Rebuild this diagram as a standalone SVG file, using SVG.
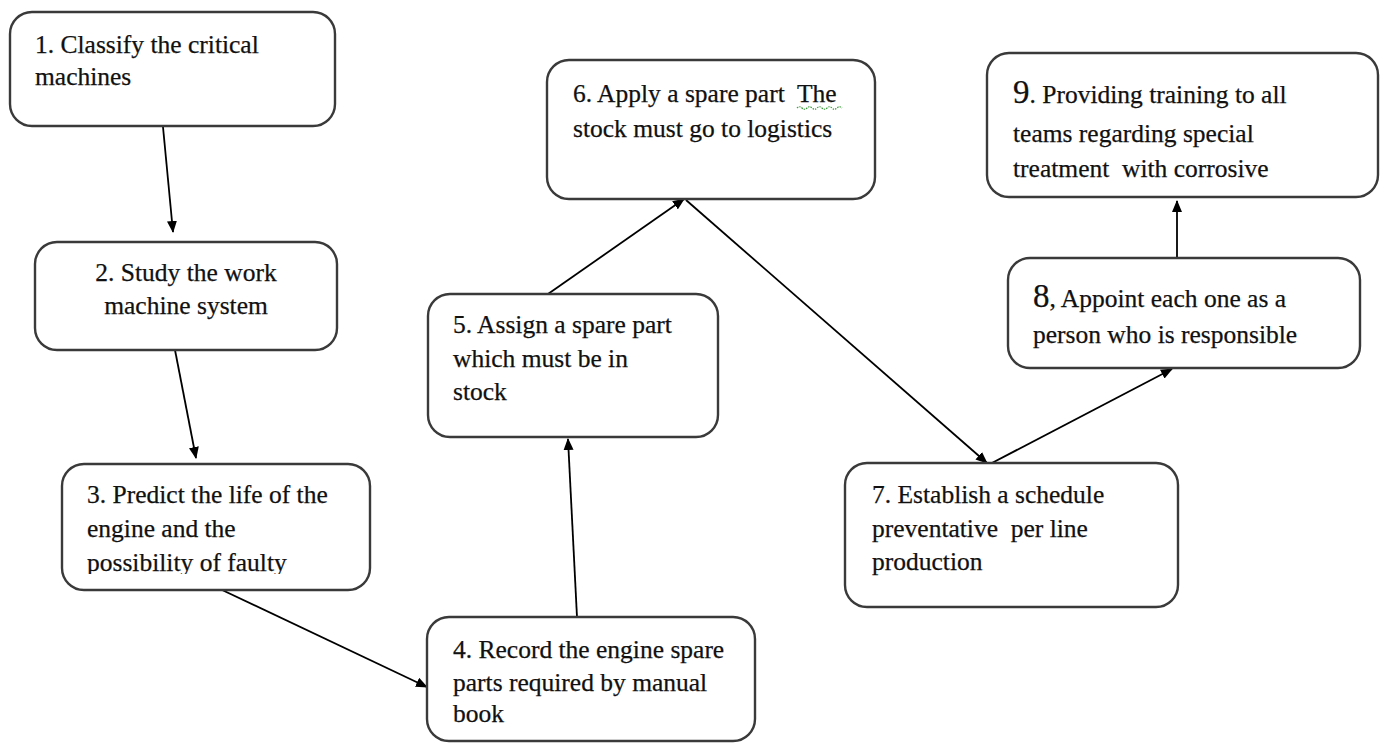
<svg xmlns="http://www.w3.org/2000/svg" width="1389" height="745" viewBox="0 0 1389 745">
<style>
.box{fill:#fff;stroke:#3a3a3a;stroke-width:2.4}
.t{font-family:"Liberation Serif","Times New Roman",serif;font-size:25.5px;fill:#111;stroke:#111;stroke-width:0.25}
.big{font-size:33px}
.c{stroke:#000;stroke-width:1.8;fill:none;marker-end:url(#ah)}
</style>
<defs>
<marker id="ah" viewBox="0 0 12 10" refX="11" refY="5" markerWidth="12" markerHeight="10" markerUnits="userSpaceOnUse" orient="auto">
<path d="M0,0 L12,5 L0,10 Z" fill="#000"/>
</marker>
<clipPath id="clip3"><rect x="62" y="464" width="308" height="110"/></clipPath>
</defs>
<rect width="1389" height="745" fill="#fff"/>
<g id="connectors">
<line class="c" x1="163" y1="127" x2="173" y2="232"/>
<line class="c" x1="175" y1="350" x2="196" y2="458"/>
<line class="c" x1="220" y1="589" x2="427" y2="687"/>
<line class="c" x1="577" y1="617" x2="568" y2="439"/>
<line class="c" x1="548" y1="294" x2="684" y2="199"/>
<line class="c" x1="686" y1="200" x2="987" y2="463"/>
<line class="c" x1="990" y1="464" x2="1172" y2="369"/>
<line class="c" x1="1177" y1="258" x2="1177" y2="201"/>
</g>
<g id="n1">
<rect class="box" x="10" y="12" width="325" height="114" rx="22"/>
<text class="t" x="35" y="53">1. Classify the critical</text>
<text class="t" x="35" y="85">machines</text>
</g>
<g id="n2">
<rect class="box" x="35" y="242" width="302" height="108" rx="22"/>
<text class="t" x="186" y="281" text-anchor="middle">2. Study the work</text>
<text class="t" x="186" y="314" text-anchor="middle">machine system</text>
</g>
<g id="n3">
<rect class="box" x="62" y="464" width="308" height="126" rx="22"/>
<g clip-path="url(#clip3)">
<text class="t" x="87" y="503">3. Predict the life of the</text>
<text class="t" x="87" y="537">engine and the</text>
<text class="t" x="87" y="571">possibility of faulty</text>
</g>
</g>
<g id="n4">
<rect class="box" x="427" y="617" width="328" height="124" rx="22"/>
<text class="t" x="453" y="658">4. Record the engine spare</text>
<text class="t" x="453" y="691">parts required by manual</text>
<text class="t" x="453" y="722">book</text>
</g>
<g id="n5">
<rect class="box" x="428" y="294" width="290" height="143" rx="22"/>
<text class="t" x="453" y="333">5. Assign a spare part</text>
<text class="t" x="453" y="367">which must be in</text>
<text class="t" x="453" y="400">stock</text>
</g>
<g id="n6">
<rect class="box" x="547" y="60" width="328" height="139" rx="22"/>
<text class="t" x="573" y="102" xml:space="preserve">6. Apply a spare part  The</text>
<text class="t" x="573" y="137">stock must go to logistics</text>
<path d="M797,108 q2.5,-2.5 5,0 t5,0 t5,0 t5,0 t5,0 t5,0 t5,0 t5,0 t5,0" fill="none" stroke="#3a9a3a" stroke-width="1.2" stroke-dasharray="1.5 1"/>
</g>
<g id="n7">
<rect class="box" x="845" y="463" width="333" height="144" rx="22"/>
<text class="t" x="872" y="503">7. Establish a schedule</text>
<text class="t" x="872" y="537" xml:space="preserve">preventative  per line</text>
<text class="t" x="872" y="570">production</text>
</g>
<g id="n8">
<rect class="box" x="1008" y="258" width="352" height="110" rx="22"/>
<text class="t" x="1033" y="307"><tspan class="big">8</tspan>, Appoint each one as a</text>
<text class="t" x="1033" y="343">person who is responsible</text>
</g>
<g id="n9">
<rect class="box" x="987" y="53" width="391" height="144" rx="22"/>
<text class="t" x="1013" y="103"><tspan class="big">9</tspan>. Providing training to all</text>
<text class="t" x="1013" y="142">teams regarding special</text>
<text class="t" x="1013" y="177" xml:space="preserve">treatment  with corrosive</text>
</g>
</svg>
